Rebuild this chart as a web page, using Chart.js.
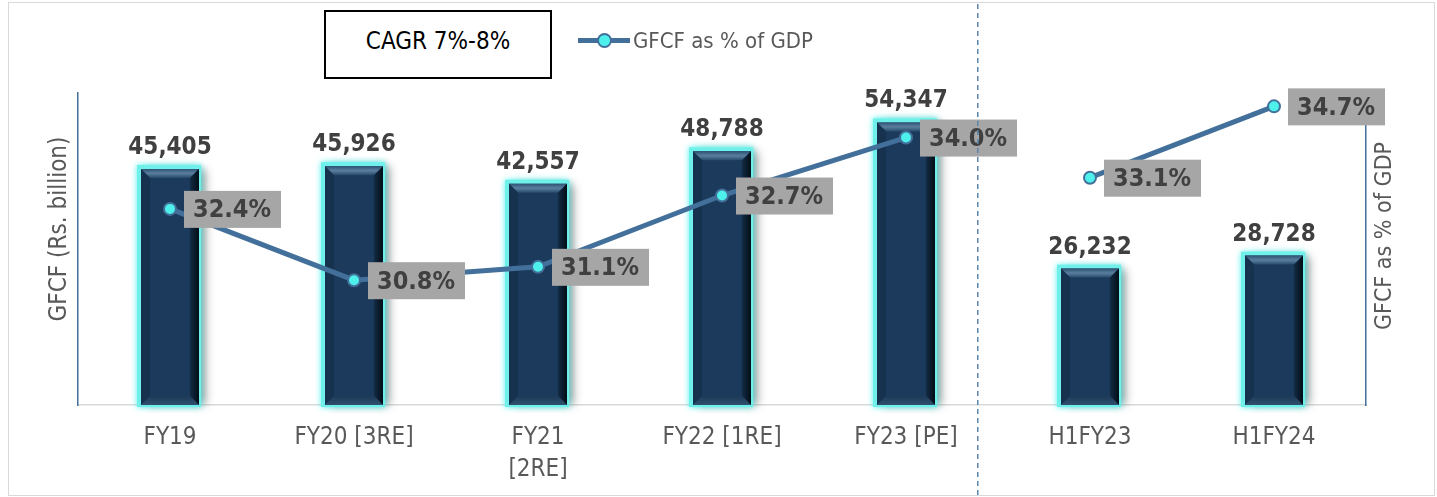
<!DOCTYPE html>
<html>
<head>
<meta charset="utf-8">
<script src="https://cdn.jsdelivr.net/npm/chart.js@4.4.1/dist/chart.umd.min.js"></script>
<style>
  body { margin: 0; background: #fff; }
  #wrap { position: relative; width: 1437px; height: 497px; font-family: "DejaVu Sans Condensed", "DejaVu Sans", sans-serif; }
  #frame { position: absolute; left: 8px; top: 2px; width: 1427px; height: 494px; border: 1.5px solid #d9d9d9; box-sizing: border-box; pointer-events: none; }
  #cagr { position: absolute; left: 324px; top: 10px; width: 228px; height: 69px; border: 2px solid #000; box-sizing: border-box;
          display: flex; align-items: center; justify-content: center; padding-bottom: 8px; font-size: 24px; color: #000; background: #fff; }
  #legend { position: absolute; left: 578px; top: 26px; height: 28px; display: flex; align-items: center; font-size: 22px; color: #595959; }
  #legend .mark { position: relative; width: 52px; height: 5px; background: #43709a; margin-right: 3px; }
  #legend .mark i { position: absolute; left: 19px; top: -5px; width: 11px; height: 11px; border-radius: 50%; background: #4df0ea; border: 2px solid #43709a; }
</style>
</head>
<body>
<div id="wrap">
  <canvas id="gfcfChart" width="1437" height="497"></canvas>
  <div id="frame"></div>
  <div id="cagr">CAGR 7%-8%</div>
  <div id="legend"><span class="mark"><i></i></span>GFCF as % of GDP</div>
</div>
<script>
const categories = ['FY19', 'FY20 [3RE]', ['FY21', '[2RE]'], 'FY22 [1RE]', 'FY23 [PE]', 'H1FY23', 'H1FY24'];
const gfcfValues = [45405, 45926, 42557, 48788, 54347, 26232, 28728];
const gdpShare = [32.4, 30.8, 31.1, 32.7, 34.0, 33.1, 34.7];

const FONT = '"DejaVu Sans Condensed", "DejaVu Sans", sans-serif';
const lineColor = '#43709a';

// glow + bevel on the bars, labels, axis titles and the dashed divider
const decorPlugin = {
  id: 'decor',
  beforeDatasetDraw(chart, args) {
    if (args.index !== 1) return;
    const ctx = chart.ctx;
    args.meta.data.forEach(bar => {
      const l = bar.x - bar.width / 2, r = bar.x + bar.width / 2, t = bar.y, bt = bar.base;
      // soft grey shadow to the right
      ctx.save();
      ctx.shadowColor = 'rgba(0,0,0,0.45)';
      ctx.shadowBlur = 9;
      ctx.shadowOffsetX = 6;
      ctx.fillStyle = '#1b3a5c';
      ctx.fillRect(l, t, r - l, bt - t);
      ctx.restore();
      // cyan glow edge
      ctx.save();
      ctx.shadowColor = 'rgba(80, 240, 235, 1)';
      ctx.shadowBlur = 6;
      ctx.fillStyle = '#6ff0ea';
      ctx.fillRect(l - 4, t - 4, r - l + 6, bt - t + 6);
      ctx.restore();
    });
  },
  afterDatasetDraw(chart, args) {
    if (args.index !== 1) return;
    const ctx = chart.ctx;
    const b = 9;
    args.meta.data.forEach(bar => {
      const l = bar.x - bar.width / 2, r = bar.x + bar.width / 2, t = bar.y, bt = bar.base;
      // top bevel
      let g = ctx.createLinearGradient(0, t, 0, t + b);
      g.addColorStop(0, '#2d5274'); g.addColorStop(0.5, '#5a7f9e'); g.addColorStop(1, '#284a6b');
      ctx.fillStyle = g;
      ctx.beginPath(); ctx.moveTo(l, t); ctx.lineTo(r, t); ctx.lineTo(r - b, t + b); ctx.lineTo(l + b, t + b); ctx.closePath(); ctx.fill();
      // right bevel
      g = ctx.createLinearGradient(r - b, 0, r, 0);
      g.addColorStop(0, '#132c46'); g.addColorStop(1, '#050d16');
      ctx.fillStyle = g;
      ctx.beginPath(); ctx.moveTo(r, t); ctx.lineTo(r, bt); ctx.lineTo(r - b, bt - b); ctx.lineTo(r - b, t + b); ctx.closePath(); ctx.fill();
      // left bevel
      ctx.fillStyle = '#17324f';
      ctx.beginPath(); ctx.moveTo(l, t); ctx.lineTo(l + b, t + b); ctx.lineTo(l + b, bt - b); ctx.lineTo(l, bt); ctx.closePath(); ctx.fill();
      // bottom bevel
      g = ctx.createLinearGradient(0, bt - b, 0, bt);
      g.addColorStop(0, '#1c3a58'); g.addColorStop(1, '#2f4f6d');
      ctx.fillStyle = g;
      ctx.beginPath(); ctx.moveTo(l, bt); ctx.lineTo(l + b, bt - b); ctx.lineTo(r - b, bt - b); ctx.lineTo(r, bt); ctx.closePath(); ctx.fill();
    });
  },
  afterDatasetsDraw(chart) {
    const ctx = chart.ctx;
    ctx.save();
    // bar values
    ctx.font = 'bold 24px ' + FONT;
    ctx.fillStyle = '#404040';
    ctx.textAlign = 'center';
    ctx.textBaseline = 'alphabetic';
    chart.getDatasetMeta(1).data.forEach((bar, i) => {
      ctx.fillText(gfcfValues[i].toLocaleString('en-US'), bar.x, bar.y - 15);
    });
    // % labels in grey boxes
    ctx.font = 'bold 25px ' + FONT;
    ctx.textAlign = 'left';
    ctx.textBaseline = 'middle';
    chart.getDatasetMeta(0).data.forEach((pt, i) => {
      const txt = gdpShare[i].toFixed(1) + '%';
      const w = ctx.measureText(txt).width + 19;
      ctx.fillStyle = '#a6a6a6';
      ctx.fillRect(pt.x + 14, pt.y - 18, w, 37);
      ctx.fillStyle = '#404040';
      ctx.fillText(txt, pt.x + 23, pt.y + 2);
    });
    // axis titles, both reading bottom to top
    ctx.fillStyle = '#595959';
    ctx.textAlign = 'center';
    ctx.font = '24px ' + FONT;
    ctx.save(); ctx.translate(60, 229); ctx.rotate(-Math.PI / 2); ctx.fillText('GFCF (Rs. billion)', 0, 0); ctx.restore();
    ctx.font = '23px ' + FONT;
    ctx.save(); ctx.translate(1385, 236); ctx.rotate(-Math.PI / 2); ctx.fillText('GFCF as % of GDP', 0, 0); ctx.restore();
    // dashed divider between full years and half years
    const xs = chart.scales.x;
    const dx = xs.getPixelForValue(4) + 0.39 * (xs.getPixelForValue(5) - xs.getPixelForValue(4));
    ctx.strokeStyle = '#5a86ad';
    ctx.lineWidth = 1.5;
    ctx.setLineDash([5, 4]);
    ctx.beginPath(); ctx.moveTo(dx, 4); ctx.lineTo(dx, 495); ctx.stroke();
    ctx.restore();
  }
};

new Chart(document.getElementById('gfcfChart'), {
  type: 'bar',
  data: {
    labels: categories,
    datasets: [
      {
        type: 'line',
        label: 'GFCF as % of GDP',
        data: gdpShare,
        yAxisID: 'y1',
        order: 0,
        borderColor: lineColor,
        borderWidth: 5,
        pointRadius: 6,
        pointBorderWidth: 2,
        pointBackgroundColor: '#4df0ea',
        pointBorderColor: lineColor,
        tension: 0,
        segment: {
          borderColor: c => c.p0DataIndex === 4 ? 'rgba(0,0,0,0)' : lineColor
        }
      },
      {
        type: 'bar',
        label: 'GFCF',
        data: gfcfValues,
        yAxisID: 'y',
        order: 1,
        backgroundColor: '#1b3a5c',
        barPercentage: 0.315,
        categoryPercentage: 1
      }
    ]
  },
  options: {
    responsive: false,
    animation: false,
    layout: { padding: { top: 93, left: 0, right: 0, bottom: 0 } },
    plugins: {
      legend: { display: false },
      tooltip: { enabled: false }
    },
    scales: {
      x: {
        grid: { display: false, drawTicks: false },
        border: { color: '#d9d9d9', width: 1.5 },
        ticks: { font: { family: FONT, size: 24, lineHeight: 1.33 }, color: '#595959', padding: 17, maxRotation: 0, autoSkip: false },
        afterFit: s => { s.height = 92; }
      },
      y: {
        position: 'left',
        min: 0,
        max: 60000,
        grid: { display: false, drawTicks: false },
        border: { color: lineColor, width: 1.5 },
        ticks: { display: false },
        afterFit: s => { s.width = 78; }
      },
      y1: {
        position: 'right',
        min: 28,
        max: 35,
        grid: { display: false, drawTicks: false },
        border: { color: lineColor, width: 1.5 },
        ticks: { display: false },
        afterFit: s => { s.width = 71; }
      }
    }
  },
  plugins: [decorPlugin]
});
</script>
</body>
</html>
